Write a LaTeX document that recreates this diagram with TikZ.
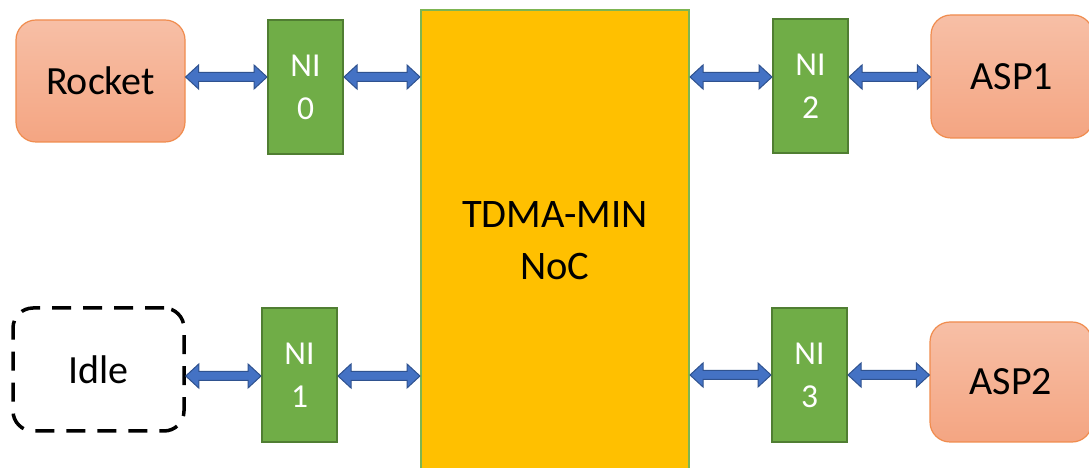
\documentclass[tikz,border=0pt]{standalone}
\usepackage{fontspec}
\setmainfont{Carlito}
\usetikzlibrary{calc}
\definecolor{peachtop}{HTML}{F7BFA6}
\definecolor{peachbot}{HTML}{F4A582}
\definecolor{peachedge}{HTML}{F08C4E}
\definecolor{nigreen}{HTML}{70AD47}
\definecolor{niedge}{HTML}{507E32}
\definecolor{nocfill}{HTML}{FFC000}
\definecolor{nocedge}{HTML}{7DB552}
\definecolor{arrowblue}{HTML}{4472C4}
\definecolor{arrowedge}{HTML}{2F528F}
\tikzset{
  procbox/.style={rectangle, rounded corners=20pt, draw=peachedge, line width=1.2pt,
    top color=peachtop, bottom color=peachbot, font=\fontsize{40}{48}\selectfont, inner sep=0pt},
  idlebox/.style={rectangle, rounded corners=20pt, draw=black, line width=3.5pt,
    dash pattern=on 19pt off 12pt, fill=white, font=\fontsize{40}{48}\selectfont, inner sep=0pt},
  nibox/.style={rectangle, draw=niedge, line width=2pt, fill=nigreen, text=white,
    font=\fontsize{33.5}{43}\selectfont, align=center, inner sep=0pt,
    minimum width=75pt, minimum height=134pt},
  nocbox/.style={rectangle, draw=nocedge, line width=2pt, fill=nocfill,
    font=\fontsize{40.5}{52}\selectfont, align=center, inner sep=0pt},
  blockarrow/.style={draw=arrowedge, fill=arrowblue, line width=1pt, line join=miter}
}
\newcommand\dblarrow[3]{%
  \path[blockarrow] let \p1=(#1), \p2=(#2) in
    (\x1,#3) -- (\x1+13pt,#3+12pt) -- (\x1+13pt,#3+4.5pt) -- (\x2-13pt,#3+4.5pt)
    -- (\x2-13pt,#3+12pt) -- (\x2,#3) -- (\x2-13pt,#3-12pt) -- (\x2-13pt,#3-4.5pt)
    -- (\x1+13pt,#3-4.5pt) -- (\x1+13pt,#3-12pt) -- cycle;}
\begin{document}
\begin{tikzpicture}[x=1pt,y=1pt]
  \useasboundingbox (0,0) rectangle (1089,468);
  \clip (0,0) rectangle (1089,468);
  \fill[white] (0,0) rectangle (1089,468);
  % NoC
  \node[nocbox, minimum width=268pt, minimum height=462pt] (noc) at (555,227) {TDMA-MIN\\NoC};
  % processors
  \node[procbox, minimum width=169pt, minimum height=122pt] (rocket) at (100.5,387) {Rocket};
  \node[idlebox, minimum width=171pt, minimum height=123pt] (idle) at (98.5,98.5) {Idle};
  \node[procbox, minimum width=162pt, minimum height=123pt] (asp1) at (1012,391.5) {ASP1};
  \node[procbox, minimum width=162pt, minimum height=120pt] (asp2) at (1011,86) {ASP2};
  % network interfaces
  \node[nibox] (ni0) at (305.5,381) {NI\\0};
  \node[nibox] (ni1) at (299.5,93) {NI\\1};
  \node[nibox] (ni2) at (810.5,382) {NI\\2};
  \node[nibox] (ni3) at (809.5,93) {NI\\3};
  % connectors
  \dblarrow{rocket.east}{ni0.west}{391pt}
  \dblarrow{ni0.east}{noc.west}{391pt}
  \dblarrow{noc.east}{ni2.west}{391pt}
  \dblarrow{ni2.east}{asp1.west}{391pt}
  \dblarrow{idle.east}{ni1.west}{92pt}
  \dblarrow{ni1.east}{noc.west}{92pt}
  \dblarrow{noc.east}{ni3.west}{93pt}
  \dblarrow{ni3.east}{asp2.west}{93pt}
\end{tikzpicture}
\end{document}
